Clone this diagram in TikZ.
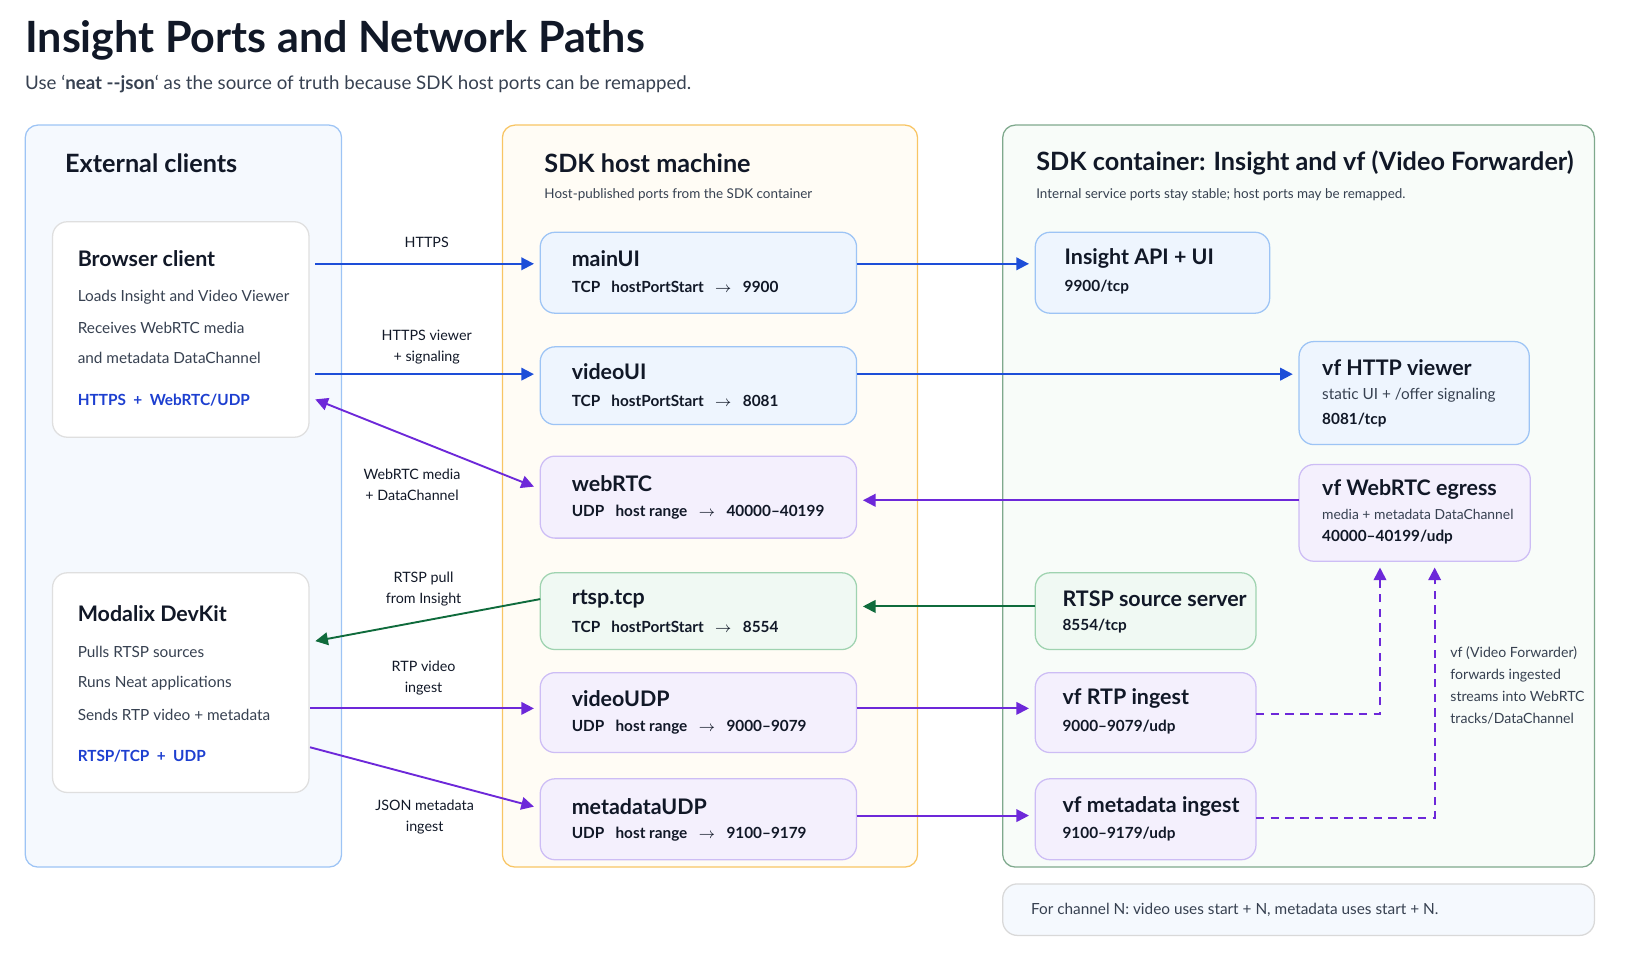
\documentclass[tikz,border=0pt]{standalone}
\usepackage{fontspec}
\setmainfont{Lato}
\usetikzlibrary{arrows.meta,positioning}

\definecolor{inkdark}{HTML}{111827}
\definecolor{inkgray}{HTML}{374151}
\definecolor{lnblue}{HTML}{1D4ED8}
\definecolor{lnpurple}{HTML}{6D28D9}
\definecolor{lngreen}{HTML}{0F6B3C}
\definecolor{txblue}{HTML}{1D3FD0}
\definecolor{bdblue}{HTML}{9DC4F5}
\definecolor{flblue}{HTML}{EEF5FE}
\definecolor{bdpurple}{HTML}{CDBDF5}
\definecolor{flpurple}{HTML}{F4F0FD}
\definecolor{bdgreen}{HTML}{9FD3B0}
\definecolor{flgreen}{HTML}{F0F9F3}
\definecolor{bdorange}{HTML}{F8C564}
\definecolor{florange}{HTML}{FFFCF5}

\newcommand{\bx}[6]{%
  \node [#2, anchor=north west, minimum width={(#5-#3)*0.5pt},
    minimum height={(#6-#4)*0.5pt}] (#1) at (#3,#4) {};}

\begin{document}
\begin{tikzpicture}[
  x=0.5pt, y=-0.5pt,
  every node/.style={inner sep=0pt, outer sep=0pt, text=inkdark},
  panel/.style={draw, rounded corners=6pt, line width=0.6pt},
  pblue/.style={panel, draw=bdblue, fill=flblue!60},
  porange/.style={panel, draw=bdorange, fill=florange},
  pgreen/.style={panel, draw=bdgreen!80!black, fill=flgreen!50},
  card/.style={draw, rounded corners=7pt, line width=0.6pt},
  cwhite/.style={card, draw=gray!25, fill=white},
  cblue/.style={card, draw=bdblue, fill=flblue},
  cpurple/.style={card, draw=bdpurple, fill=flpurple},
  cgreen/.style={card, draw=bdgreen, fill=flgreen},
  cnote/.style={card, draw=gray!30, fill=flblue!60},
  ttl/.style={anchor=west, font=\bfseries\fontsize{10.2}{12}\selectfont},
  txt/.style={anchor=west, font=\fontsize{7.3}{8}\selectfont, text=inkgray},
  prt/.style={anchor=west, font=\bfseries\fontsize{7.3}{8}\selectfont},
  lbl/.style={align=center, font=\fontsize{6.8}{10}\selectfont},
  conn/.style={line width=0.9pt, -{Triangle[length=6pt,width=6pt]}},
  blueln/.style={conn, draw=lnblue},
  purpleln/.style={conn, draw=lnpurple},
  greenln/.style={conn, draw=lngreen},
  dashln/.style={purpleln, dashed, dash pattern=on 4pt off 3pt},
]
\useasboundingbox (0,0) rectangle (1568,908);

% title
\node [anchor=west, font=\bfseries\fontsize{20.5}{24}\selectfont] at (24,38) {Insight Ports and Network Paths};
\node [anchor=west, font=\fontsize{8.9}{10}\selectfont, text=inkgray] at (24,80)
  {Use \symbol{96}\textbf{neat -{}-json}\symbol{96} as the source of truth because SDK host ports can be remapped.};

% panels
\bx{clients}{pblue}{24}{119}{325}{825}
\bx{host}{porange}{478}{119}{873}{825}
\bx{cont}{pgreen}{954}{119}{1517}{825}
\bx{note}{cnote}{954}{841}{1517}{890}

\node [anchor=west, font=\bfseries\fontsize{12}{14}\selectfont] at (62,155) {External clients};
\node [anchor=west, font=\bfseries\fontsize{12}{14}\selectfont] at (518,155) {SDK host machine};
\node [anchor=west, font=\fontsize{6.4}{7}\selectfont, text=inkgray] at (518,185) {Host-published ports from the SDK container};
\node [anchor=west, font=\bfseries\fontsize{12}{14}\selectfont] at (986,155) {SDK container: Insight and vf (Video Forwarder)};
\node [anchor=west, font=\fontsize{6.4}{7}\selectfont, text=inkgray] at (986,185) {Internal service ports stay stable; host ports may be remapped.};
\node [anchor=west, font=\fontsize{7.3}{8}\selectfont, text=inkgray] at (981,866) {For channel N: video uses start + N, metadata uses start + N.};

% external clients
\bx{brow}{cwhite}{50}{211}{294}{416}
\node [ttl] at (74,246) {Browser client};
\node [txt] at (74,283) {Loads Insight and Video Viewer};
\node [txt] at (74,312) {Receives WebRTC media};
\node [txt] at (74,341) {and metadata DataChannel};
\node [prt, text=txblue] at (74,381) {HTTPS \ + \ WebRTC/UDP};

\bx{devkit}{cwhite}{50}{545}{294}{754}
\node [ttl] at (74,584) {Modalix DevKit};
\node [txt] at (74,620) {Pulls RTSP sources};
\node [txt] at (74,650) {Runs Neat applications};
\node [txt] at (74,680) {Sends RTP video + metadata};
\node [prt, text=txblue] at (74,719) {RTSP/TCP \ + \ UDP};

% host ports
\bx{main}{cblue}{514}{221}{815}{298}
\node [ttl] at (544,246) {mainUI};
\node [prt] at (544,273) {TCP \ \ hostPortStart \ \ $\rightarrow$ \ \ 9900};
\bx{video}{cblue}{514}{330}{815}{404}
\node [ttl] at (544,354) {videoUI};
\node [prt] at (544,381) {TCP \ \ hostPortStart \ \ $\rightarrow$ \ \ 8081};
\bx{webrtc}{cpurple}{514}{434}{815}{512}
\node [ttl] at (544,460) {webRTC};
\node [prt] at (544,487) {UDP \ \ host range \ \ $\rightarrow$ \ \ 40000--40199};
\bx{rtsp}{cgreen}{514}{545}{815}{618}
\node [ttl] at (544,570) {rtsp.tcp};
\node [prt] at (544,596) {TCP \ \ hostPortStart \ \ $\rightarrow$ \ \ 8554};
\bx{vudp}{cpurple}{514}{640}{815}{716}
\node [ttl] at (544,665) {videoUDP};
\node [prt] at (544,692) {UDP \ \ host range \ \ $\rightarrow$ \ \ 9000--9079};
\bx{mudp}{cpurple}{514}{741}{815}{818}
\node [ttl] at (544,767) {metadataUDP};
\node [prt] at (544,794) {UDP \ \ host range \ \ $\rightarrow$ \ \ 9100--9179};

% container services
\bx{api}{cblue}{985}{221}{1208}{298}
\node [ttl] at (1013,246) {Insight API + UI};
\node [prt] at (1013,273) {9900/tcp};
\bx{viewer}{cblue}{1236}{325}{1455}{423}
\node [ttl] at (1258,350) {vf HTTP viewer};
\node [txt] at (1258,376) {static UI + /offer signaling};
\node [prt] at (1258,400) {8081/tcp};
\bx{egress}{cpurple}{1236}{442}{1456}{534}
\node [ttl] at (1258,466) {vf WebRTC egress};
\node [txt, font=\fontsize{6.6}{7}\selectfont] at (1258,489) {media + metadata DataChannel};
\node [prt] at (1258,511) {40000--40199/udp};
\bx{srv}{cgreen}{985}{545}{1195}{618}
\node [ttl] at (1011,570) {RTSP source server};
\node [prt] at (1011,596) {8554/tcp};
\bx{rtp}{cpurple}{985}{640}{1195}{716}
\node [ttl] at (1011,665) {vf RTP ingest};
\node [prt] at (1011,692) {9000--9079/udp};
\bx{meta}{cpurple}{985}{741}{1195}{818}
\node [ttl] at (1011,767) {vf metadata ingest};
\node [prt] at (1011,794) {9100--9179/udp};

% connectors
\coordinate (b1) at (300,251);
\coordinate (b2) at (300,356);
\coordinate (b3) at (300,380);
\coordinate (d1) at (300,610);
\coordinate (d2) at (295,674);
\coordinate (d3) at (295,711);
\draw [blueln] (b1) -- ([xshift=-3pt]main.west |- b1);
\draw [blueln] (b2) -- ([xshift=-3pt]video.west |- b2);
\draw [purpleln, {Triangle[length=6pt,width=6pt]}-{Triangle[length=6pt,width=6pt]}] (b3) -- ([xshift=-3pt,yshift=5pt]webrtc.west);
\draw [greenln] (rtsp.west |- 0,570) -- (d1);
\draw [purpleln] (d2) -- ([xshift=-3pt]vudp.west |- d2);
\draw [purpleln] (d3) -- ([xshift=-3pt,yshift=6pt]mudp.west);
\node [lbl] at (406,231) {HTTPS};
\node [lbl] at (406,330) {HTTPS viewer\\+ signaling};
\node [lbl] at (392,461) {WebRTC media\\+ DataChannel};
\node [lbl] at (403,560) {RTSP pull\\from Insight};
\node [lbl] at (403,645) {RTP video\\ingest};
\node [lbl] at (404,777) {JSON metadata\\ingest};

\draw [blueln] (main.east |- b1) -- ([xshift=-3pt]api.west |- b1);
\draw [blueln] (video.east |- b2) -- ([xshift=-3pt]viewer.west |- b2);
\draw [purpleln] (egress.west |- 0,476) -- ([xshift=3pt]webrtc.east |- 0,476);
\draw [greenln] (srv.west |- 0,577) -- ([xshift=3pt]rtsp.east |- 0,577);
\draw [purpleln] (vudp.east |- d2) -- ([xshift=-3pt]rtp.west |- d2);
\draw [purpleln] (mudp.east |- 0,776) -- ([xshift=-3pt]meta.west |- 0,776);

\coordinate (e1) at (1313,540);
\coordinate (e2) at (1365,540);
\draw [dashln] (rtp.east |- 0,679) -| (e1);
\draw [dashln] (meta.east |- 0,778) -| (e2);
\node [anchor=north west, align=left, font=\fontsize{6.7}{10.5}\selectfont, text=inkgray] at (1380,615)
  {vf (Video Forwarder)\\forwards ingested\\streams into WebRTC\\tracks/DataChannel};
\end{tikzpicture}
\end{document}
